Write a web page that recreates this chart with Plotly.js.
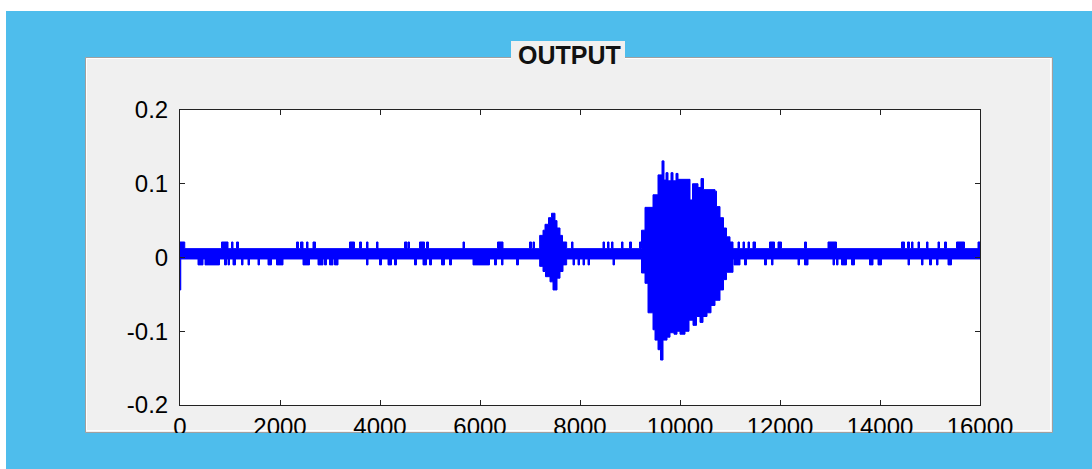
<!DOCTYPE html>
<html>
<head>
<meta charset="utf-8">
<script src="https://cdn.plot.ly/plotly-3.0.1.min.js"></script>
<style>
html,body{margin:0;padding:0;background:#ffffff;overflow:hidden;}
#chart{position:absolute;left:0;top:0;width:1092px;height:469px;}
</style>
</head>
<body>
<div id="chart"></div>
<script>
// ---- data (sample index, amplitude) ----
const xTickVals = [0,2000,4000,6000,8000,10000,12000,14000,16000];
const xTickText = ["0","2000","4000","6000","8000","10000","12000","14000","16000"];
const yTickVals = [-0.2,-0.1,0,0.1,0.2];
const yTickText = ["-0.2","-0.1","0","0.1","0.2"];

// noise floor levels
const baseHi = 0.012, baseLo = -0.002, spikeHi = 0.021, spikeLo = -0.010;

// short excursions of the noise floor [start, end] in samples
const upperSpikes = [[0,95],[830,960],[1030,1060],[1130,1170],[2330,2370],[2410,2460],[2530,2560],[2660,2710],
  [3390,3490],[3590,3630],[3730,3760],[3930,3960],[4490,4540],[4560,4590],[4790,4890],[4930,4970],
  [5660,5690],[6350,6460],[6990,7030],[7060,7090],[7830,7860],[8460,8490],[8550,8580],[8630,8660],
  [8830,8860],[8990,9030],[9190,9220],[11160,11190],[11260,11290],[11360,11390],[11460,11510],
  [11790,11890],[11960,12030],[12490,12530],[12960,13130],[14430,14490],[14550,14590],[14630,14660],
  [14760,14790],[14930,14960],[15160,15190],[15290,15330],[15530,15690],[15960,16000]];
const lowerSpikes = [[360,460],[500,790],[890,930],[960,990],[1060,1110],[1230,1260],[1360,1390],[1560,1590],
  [1760,1830],[1930,2060],[2460,2590],[2760,2860],[2890,2930],[2990,3060],[3090,3160],[3730,3760],
  [3990,4030],[4160,4230],[4290,4330],[4690,4730],[4860,4930],[4990,5030],[5230,5290],[5390,5430],
  [5860,6190],[6290,6330],[6430,6460],[6730,6770],[7860,7890],[7960,7990],[8060,8090],[8160,8190],
  [8660,8690],[11080,11200],[11290,11330],[11690,11730],[11830,11860],[12360,12390],[12490,12560],
  [13060,13090],[13130,13160],[13230,13330],[13430,13490],[13790,13860],[13960,14030],[14560,14590],
  [14830,14860],[14990,15030],[15130,15160],[15360,15430]];

// start transient (lower envelope)
const startLower = [[0,-0.044],[15,-0.002]];

// small burst envelope (~7200..7730)
const burst1Upper = [[7193,0.030],[7260,0.037],[7300,0.045],[7370,0.054],[7430,0.060],[7500,0.050],
  [7540,0.040],[7600,0.030],[7650,0.021],[7733,0.012]];
const burst1Lower = [[7193,-0.012],[7260,-0.019],[7310,-0.026],[7400,-0.033],[7460,-0.044],[7540,-0.028],
  [7600,-0.019],[7660,-0.010],[7733,-0.002]];

// large burst envelope (~9230..11060)
const burst2Upper = [[9230,0.037],[9300,0.068],[9460,0.085],[9560,0.112],[9640,0.131],[9680,0.105],
  [9720,0.115],[9760,0.104],[9820,0.115],[9860,0.104],[9920,0.114],[9960,0.106],[10200,0.078],
  [10250,0.100],[10360,0.095],[10420,0.107],[10470,0.092],[10700,0.090],[10730,0.069],[10800,0.054],
  [10870,0.040],[10930,0.028],[11000,0.021],[11060,0.012]];
const burst2Lower = [[9230,-0.021],[9300,-0.035],[9360,-0.075],[9460,-0.098],[9500,-0.112],[9560,-0.125],
  [9610,-0.139],[9660,-0.112],[9740,-0.108],[9800,-0.102],[9880,-0.104],[9940,-0.100],[10000,-0.104],
  [10100,-0.100],[10180,-0.085],[10260,-0.092],[10330,-0.080],[10400,-0.088],[10460,-0.080],
  [10540,-0.075],[10620,-0.065],[10700,-0.058],[10800,-0.044],[10870,-0.030],[10930,-0.020],[11060,-0.002]];

function envelope(spikes, spikeVal, base, pieces){
  const pts = [[0, base]];
  spikes.forEach(([s,e]) => { pts.push([s, spikeVal]); pts.push([e, base]); });
  pieces.forEach(p => p.forEach(q => pts.push(q)));
  pts.push([16000, base]);
  pts.sort((a,b) => a[0]-b[0]);
  return {x: pts.map(p=>p[0]), y: pts.map(p=>p[1])};
}
const up = envelope(upperSpikes, spikeHi, baseHi, [burst1Upper, burst2Upper]);
const lo = envelope(lowerSpikes, spikeLo, baseLo, [startLower, burst1Lower, burst2Lower]);

const BLUE = '#0000FF';
const traces = [
  {x: up.x, y: up.y, type:'scatter', mode:'lines', line:{color:BLUE, width:1, shape:'hv', simplify:false}, hoverinfo:'skip'},
  {x: lo.x, y: lo.y, type:'scatter', mode:'lines', line:{color:BLUE, width:1, shape:'hv', simplify:false},
   fill:'tonexty', fillcolor:BLUE, hoverinfo:'skip'}
];

// page-pixel -> paper helpers (plot area 180..980 x, 110..405 y)
const PX = p => (p-180)/800;
const PY = p => (405-p)/295;

const font = {family:'"Liberation Sans", Arial, sans-serif', size:24, color:'#000'};
const layout = {
  width:1092, height:469,
  margin:{l:180, r:112, t:110, b:64, pad:0},
  paper_bgcolor:'#4EBDEC', plot_bgcolor:'#FFFFFF',
  showlegend:false,
  font: font,
  xaxis:{range:[0,16000], tickvals:xTickVals, ticktext:xTickText, ticks:'inside', ticklen:5, tickwidth:1,
         tickcolor:'#222', showline:true, linecolor:'#222', linewidth:1, mirror:'ticks',
         showgrid:false, zeroline:false, tickfont:font, ticklabelstandoff:0, fixedrange:true},
  yaxis:{range:[-0.2,0.2], tickvals:yTickVals, ticktext:yTickText, ticks:'inside', ticklen:5, tickwidth:1,
         tickcolor:'#222', showline:true, linecolor:'#222', linewidth:1, mirror:'ticks',
         showgrid:false, zeroline:false, tickfont:font, ticklabelstandoff:6, fixedrange:true},
  shapes:[
    // white strips at top and left of the screenshot
    {type:'rect', xref:'paper', yref:'paper', x0:PX(0), x1:PX(1092), y0:PY(11), y1:PY(0), fillcolor:'#FFFFFF', line:{width:0}, layer:'below'},
    {type:'rect', xref:'paper', yref:'paper', x0:PX(0), x1:PX(6), y0:PY(469), y1:PY(0), fillcolor:'#FFFFFF', line:{width:0}, layer:'below'},
    // grey panel
    {type:'rect', xref:'paper', yref:'paper', x0:PX(85.5), x1:PX(1052.5), y0:PY(432.5), y1:PY(57.5), fillcolor:'#F0F0F0', line:{color:'#A0A0A0', width:1}, layer:'below'},
    {type:'rect', xref:'paper', yref:'paper', x0:PX(86.5), x1:PX(1050.5), y0:PY(430.5), y1:PY(58.5), fillcolor:'rgba(0,0,0,0)', line:{color:'#FFFFFF', width:1}, layer:'below'},
    // white axes area
    {type:'rect', xref:'paper', yref:'paper', x0:0, x1:1, y0:0, y1:1, fillcolor:'#FFFFFF', line:{width:0}, layer:'below'},
    // blue area below the panel (clips x tick labels)
    {type:'rect', xref:'paper', yref:'paper', x0:PX(6), x1:PX(1092), y0:PY(469), y1:PY(433), fillcolor:'#4EBDEC', line:{width:0}, layer:'above'},
    // title background box
    {type:'rect', xref:'paper', yref:'paper', x0:PX(511), x1:PX(625), y0:PY(60), y1:PY(41), fillcolor:'#F0F0F0', line:{width:0}, layer:'above'}
  ],
  annotations:[
    {text:'<b>OUTPUT</b>', xref:'paper', yref:'paper', x:PX(569), y:PY(55), xanchor:'center', yanchor:'middle',
     showarrow:false, font:{family:font.family, size:25, color:'#111'}}
  ]
};

Plotly.newPlot('chart', traces, layout, {staticPlot:true, displayModeBar:false});
</script>
</body>
</html>
